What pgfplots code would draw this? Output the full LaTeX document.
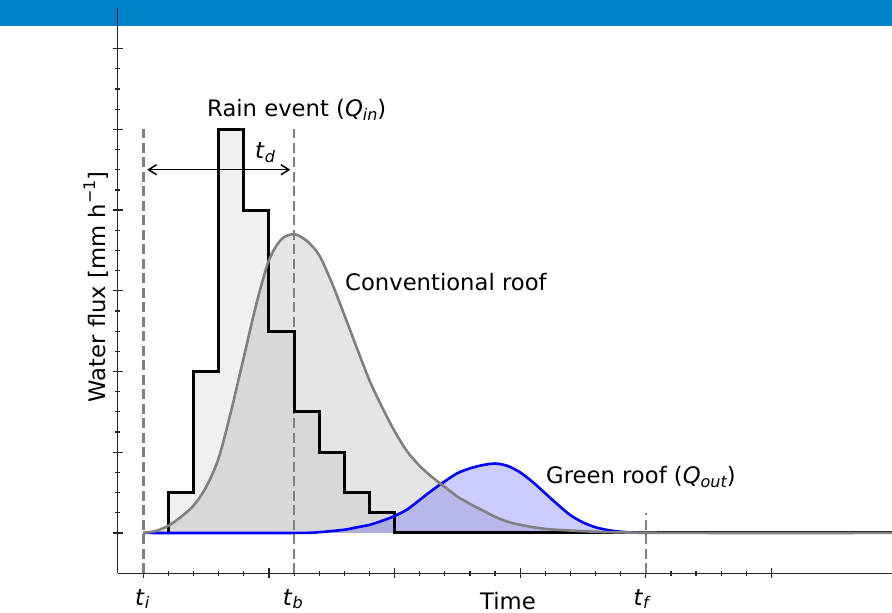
\documentclass[border=0pt]{standalone}
\usepackage{fontspec}
\setmainfont{DejaVu Sans}
\usepackage{pgfplots}
\pgfplotsset{compat=1.18}
\usetikzlibrary{arrows.meta}
\definecolor{band}{RGB}{0,130,200}
\newcommand{\fs}{\fontsize{22.7bp}{27bp}\selectfont}
\newcommand{\sub}[2]{\textit{#1}\raisebox{-0.3ex}{\fontsize{16bp}{19bp}\selectfont\itshape #2}}

\pgfplotstableread{
x y
1 0
1 0.5
2 2
3 5
4 4
5 2.5
6 1.5
7 1
8 0.5
9 0.25
10 0
30 0
}\rain

\pgfplotstableread{
x y
0 0
0.5 0.025
1 0.09
1.5 0.2
2 0.34
2.5 0.57
3 0.93
3.5 1.52
4 2.18
4.5 2.84
5 3.38
5.5 3.64
6 3.70
6.5 3.62
7 3.44
7.5 3.10
8 2.70
8.5 2.29
9 1.89
9.5 1.56
10 1.26
10.5 1.01
11 0.83
11.5 0.69
12 0.57
12.5 0.45
13 0.36
13.5 0.28
14 0.20
14.5 0.14
15 0.10
16 0.05
17 0.03
18 0.015
19 0.007
20 0.003
22 0
30 0
}\conv

\pgfplotstableread{
x y
0 0
6 0
7 0.01
8 0.04
8.5 0.07
9 0.10
9.5 0.15
10 0.21
10.5 0.29
11 0.41
11.5 0.53
12 0.64
12.5 0.74
13 0.80
13.5 0.84
14 0.86
14.5 0.83
15 0.75
15.5 0.63
16 0.49
16.5 0.35
17 0.22
17.5 0.13
18 0.07
18.5 0.035
19 0.015
19.5 0.005
20 0
}\green

\begin{document}
\begin{tikzpicture}
\useasboundingbox (0,0) rectangle (892bp,613bp);
\fill[band] (0,587.3bp) rectangle (892bp,613bp);
\begin{axis}[
  at={(117.5bp,39.7bp)}, anchor=south west,
  scale only axis, width=774.5bp, height=565bp,
  xmin=-1.03, xmax=29.8, ymin=-0.5, ymax=6.5,
  axis x line=bottom, axis y line=left,
  axis line style={-, black!85, line width=1.3bp},
  xtick={0,5,...,25}, ytick={0,...,6},
  minor x tick num=4, minor y tick num=3,
  xticklabels={,,}, yticklabels={,,},
  ticklabel style={opacity=0},
  tick align=center,
  major tick length=10bp, minor tick length=5bp,
  tick style={black!85, line width=1.2bp},
]
\addplot[const plot, draw=none, fill=black, fill opacity=0.06] table {\rain} \closedcycle;
\addplot[draw=none, fill=black, fill opacity=0.1] table {\conv} \closedcycle;
\addplot[draw=none, fill=blue, fill opacity=0.2] table {\green} \closedcycle;
\addplot[gray, line width=2.5bp, dash pattern=on 10bp off 4.5bp] coordinates {(0,-0.5) (0,5)};
\addplot[gray, line width=2.5bp, dash pattern=on 10bp off 4.5bp] coordinates {(6,-0.5) (6,5)};
\addplot[gray, line width=2.5bp, dash pattern=on 10bp off 4.5bp] coordinates {(20,-0.5) (20,0.25)};
\addplot[const plot, black, line width=3bp] table {\rain};
\addplot[blue, line width=2.6bp, smooth] table {\green};
\addplot[gray, line width=2.6bp, smooth] table {\conv};
\draw[{Straight Barb[length=8bp,width=10bp]}-{Straight Barb[length=8bp,width=10bp]}, black, line width=1.5bp] (axis cs:0.15,4.5) -- (axis cs:5.85,4.5);
\end{axis}
\node[anchor=base west, inner sep=0] at (207bp,496bp) {\fs Rain event (\sub{Q}{in})};
\node[anchor=base west, inner sep=0] at (255bp,454bp) {\fs \sub{t}{d}};
\node[anchor=base west, inner sep=0] at (345bp,322.5bp) {\fs Conventional roof};
\node[anchor=base west, inner sep=0] at (546bp,129bp) {\fs Green roof (\sub{Q}{out})};
\node[anchor=base west, inner sep=0] at (135bp,8bp) {\fs \sub{t}{i}};
\node[anchor=base west, inner sep=0] at (282.7bp,8bp) {\fs \sub{t}{b}};
\node[anchor=base west, inner sep=0] at (633.3bp,8bp) {\fs \sub{t}{f}};
\node[anchor=base west, inner sep=0] at (480bp,4bp) {\fs Time};
\node[anchor=base, rotate=90, inner sep=0] at (105bp,326.3bp) {\fs Water flux [mm h\raisebox{0.8ex}{\fontsize{16bp}{19bp}\selectfont −1}]};
\end{tikzpicture}
\end{document}
